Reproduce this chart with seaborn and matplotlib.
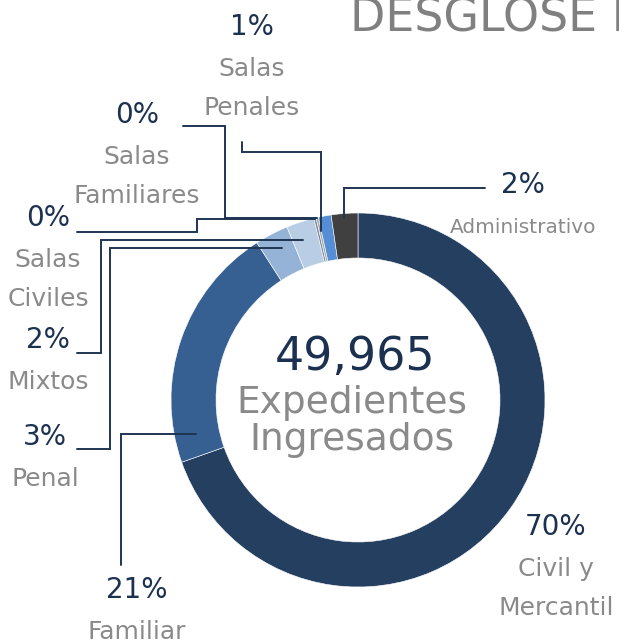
import numpy as np
import pandas as pd
import seaborn as sns
import matplotlib.pyplot as plt

# datos del desglose (total 49,965 expedientes)
categorias = ["Civil y Mercantil", "Familiar", "Penal", "Mixtos",
              "Salas Civiles", "Salas Familiares", "Salas Penales", "Administrativo"]
expedientes = [34776, 10643, 1449, 1199, 100, 100, 550, 1148]
etiquetas = ["Civil y\nMercantil", "Familiar", "Penal", "Mixtos",
             "Salas\nCiviles", "Salas\nFamiliares", "Salas\nPenales", "Administrativo"]
titulo = "DESGLOSE POR MATERIA"
texto_centro = ["Expedientes", "Ingresados"]

colores = ["#253F61", "#376092", "#95B3D7", "#B9CDE5",
           "#7A8AA0", "#A6A6A6", "#558ED5", "#404040"]

W, H = 619, 644
CX, CY, R, ANCHO = 358, 400, 187, 45
NAVY = "#1C3150"
GRIS = "#8A8A8A"
LINEA = "#1F3552"

# posicion de cada etiqueta (pixeles, y hacia abajo): x, y del %, tamano del texto
layout = {
    "Civil y Mercantil": dict(x=556, y=527, size=18),
    "Familiar": dict(x=137, y=590, size=18),
    "Penal": dict(x=45, y=437, size=18),
    "Mixtos": dict(x=48, y=340, size=18),
    "Salas Civiles": dict(x=48, y=218, size=18),
    "Salas Familiares": dict(x=137, y=115, size=18),
    "Salas Penales": dict(x=252, y=27, size=18),
    "Administrativo": dict(x=523, y=185, size=14.5, dy=42),
}
# lineas guia: punto de anclaje en la cuna (fraccion del angulo, radio) y quiebres
guias = {
    "Familiar": (0.10, 165, [("h", 121), ("v", 565)]),
    "Penal": (0.59, 170, [("h", 110), ("v", 449), ("h", 77)]),
    "Mixtos": (0.38, 169, [("h", 101), ("v", 353), ("h", 77)]),
    "Salas Civiles": (0.5, 186, [("h", 197), ("v", 232), ("h", 77)]),
    "Salas Familiares": (0.5, 186, [("h", 225), ("v", 126), ("h", 183)]),
    "Salas Penales": (0.0, 173, [("v", 152), ("h", 242), ("v", 142)]),
    "Administrativo": (0.47, 183, [("v", 188), ("h", 485)]),
}

sns.set_theme(style="white")
plt.rcParams['font.family'] = ['DejaVu Sans']

df = pd.DataFrame({"categoria": categorias, "expedientes": expedientes, "etiqueta": etiquetas})
total = df["expedientes"].sum()
df["pct"] = df["expedientes"] / total * 100


def py(y):
    return H - y


fig = plt.figure(figsize=(W / 100, H / 100), dpi=100)
ax = fig.add_axes([0, 0, 1, 1])
wedges, _ = ax.pie(df["expedientes"], colors=colores, startangle=90, counterclock=False,
                   center=(CX, py(CY)), radius=R,
                   wedgeprops=dict(width=ANCHO, edgecolor="white", linewidth=0.4))
ax.set_xlim(0, W)
ax.set_ylim(0, H)
ax.set_aspect("equal")
ax.axis("off")

# lineas guia
for w, cat in zip(wedges, categorias):
    if cat not in guias:
        continue
    f, r, pasos = guias[cat]
    ang = np.deg2rad(w.theta2 - f * (w.theta2 - w.theta1))
    x0, y0 = CX + r * np.cos(ang), py(CY) + r * np.sin(ang)
    xs, ys = [x0], [y0]
    for tipo, v in pasos:
        if tipo == "h":
            xs.append(v); ys.append(ys[-1])
        else:
            xs.append(xs[-1]); ys.append(py(v))
    ax.plot(xs, ys, color=LINEA, lw=1.4, solid_joinstyle="miter")

# etiquetas
for _, row in df.iterrows():
    lay = layout[row["categoria"]]
    ax.text(lay["x"], py(lay["y"]), f"{row['pct']:.0f}%", color=NAVY, fontsize=20,
            ha="center", va="center")
    dy = lay.get("dy", 42)
    for i, linea in enumerate(row["etiqueta"].split("\n")):
        ax.text(lay["x"], py(lay["y"] + dy + 39 * i), linea, color=GRIS,
                fontsize=lay["size"], ha="center", va="center")

# texto central
ax.text(CX - 3, py(357), f"{total:,}", color=NAVY, fontsize=33, ha="center", va="center")
for i, linea in enumerate(texto_centro):
    ax.text(CX - 6, py(403 + 37 * i), linea, color=GRIS, fontsize=27, ha="center", va="center")

# titulo (cortado por el borde como en el original)
ax.text(350, py(31), titulo, color="#808080", fontsize=33, ha="left", va="baseline")

fig.savefig("out.png", dpi=100)
